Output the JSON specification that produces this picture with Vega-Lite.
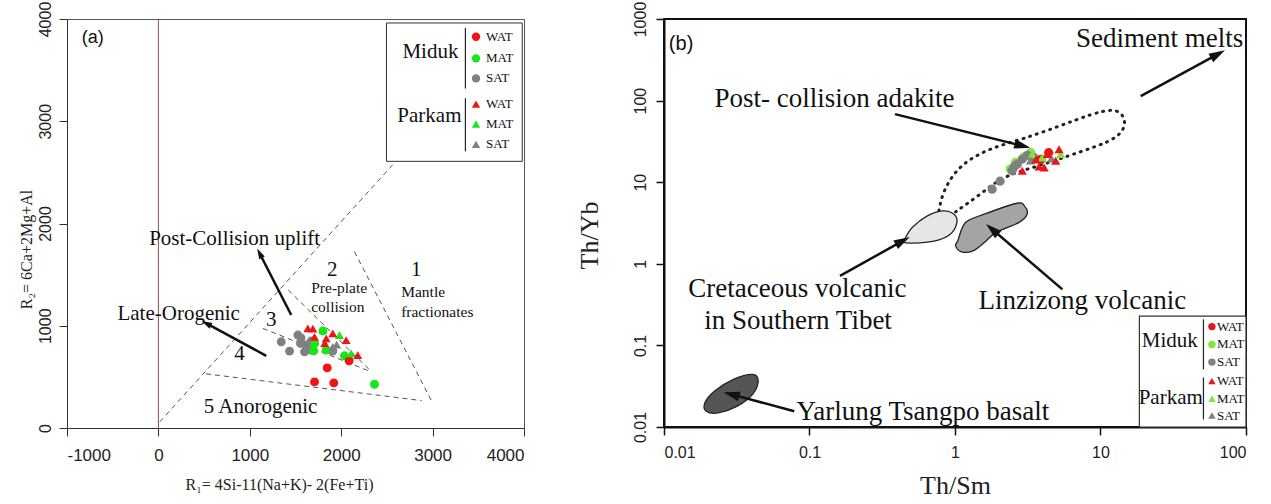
{
  "$schema": "https://vega.github.io/schema/vega-lite/v6.json",
  "background": "white",
  "padding": {"left": 17, "top": 0, "right": 0, "bottom": 0},
  "spacing": 49,
  "config": {
    "axis": {
      "grid": false,
      "labelFont": "Liberation Sans",
      "labelFontSize": 16,
      "labelColor": "#222",
      "titleFont": "Liberation Serif",
      "titleFontWeight": "normal",
      "titleColor": "#222",
      "tickColor": "#333",
      "domainColor": "#333"
    },
    "text": {"font": "Liberation Serif", "color": "#111"}
  },
  "resolve": {"scale": {"color": "independent", "shape": "independent", "angle": "independent", "fill": "independent"}},
  "datasets": {
    "zonesA": [
      {"seg": "L1", "i": 0, "x": 15, "y": 60}, {"seg": "L1", "i": 1, "x": 2564, "y": 2575},
      {"seg": "L5", "i": 0, "x": 520, "y": 530}, {"seg": "L5", "i": 1, "x": 2880, "y": 268},
      {"seg": "L1b", "i": 0, "x": 2145, "y": 1725}, {"seg": "L1b", "i": 1, "x": 2994, "y": 255},
      {"seg": "L2", "i": 0, "x": 1420, "y": 1350}, {"seg": "L2", "i": 1, "x": 2320, "y": 560},
      {"seg": "L3", "i": 0, "x": 1143, "y": 974}, {"seg": "L3", "i": 1, "x": 2328, "y": 549}
    ],
    "zeroA": [{"x": 0, "y": 0, "y2": 4000}],
    "arrowsA": [
      {"arrow": "uplift", "x": 1453, "y": 1105, "x2": 1107, "y2": 1709},
      {"arrow": "orogenic", "x": 1180, "y": 706, "x2": 525, "y2": 1023}
    ],
    "bigTextA": [
      {"x": 834, "y": 1853, "text": "Post-Collision uplift"},
      {"x": 222, "y": 1118, "text": "Late-Orogenic"},
      {"x": 1117, "y": 206, "text": "5 Anorogenic"},
      {"x": 1902, "y": 1545, "text": "2"},
      {"x": 2820, "y": 1545, "text": "1"},
      {"x": 1235, "y": 1059, "text": "3"},
      {"x": 888, "y": 728, "text": "4"}
    ],
    "smallTextA": [
      {"x": 1672, "y": 1372, "text": "Pre-plate"},
      {"x": 1672, "y": 1180, "text": "collision"},
      {"x": 2656, "y": 1333, "text": "Mantle"},
      {"x": 2656, "y": 1137, "text": "fractionates"}
    ],
    "tagA": [{"x": -838, "y": 3814, "text": "(a)"}],
    "ptsA": [
      {"loc": "Miduk", "type": "SAT", "x": 1344, "y": 843},
      {"loc": "Miduk", "type": "SAT", "x": 1435, "y": 752},
      {"loc": "Miduk", "type": "SAT", "x": 1526, "y": 909},
      {"loc": "Miduk", "type": "SAT", "x": 1555, "y": 827},
      {"loc": "Miduk", "type": "SAT", "x": 1599, "y": 745},
      {"loc": "Miduk", "type": "SAT", "x": 1672, "y": 850},
      {"loc": "Miduk", "type": "SAT", "x": 1672, "y": 762},
      {"loc": "Miduk", "type": "SAT", "x": 1908, "y": 752},
      {"loc": "Miduk", "type": "SAT", "x": 1617, "y": 811},
      {"loc": "Miduk", "type": "SAT", "x": 1560, "y": 880},
      {"loc": "Miduk", "type": "MAT", "x": 2364, "y": 428},
      {"loc": "Miduk", "type": "MAT", "x": 2036, "y": 706},
      {"loc": "Miduk", "type": "MAT", "x": 1710, "y": 827},
      {"loc": "Miduk", "type": "MAT", "x": 1700, "y": 755},
      {"loc": "Miduk", "type": "MAT", "x": 1836, "y": 762},
      {"loc": "Miduk", "type": "MAT", "x": 1800, "y": 950},
      {"loc": "Miduk", "type": "WAT", "x": 1708, "y": 451},
      {"loc": "Miduk", "type": "WAT", "x": 1919, "y": 441},
      {"loc": "Miduk", "type": "WAT", "x": 1847, "y": 588},
      {"loc": "Miduk", "type": "WAT", "x": 2087, "y": 658},
      {"loc": "Parkam", "type": "SAT", "x": 1908, "y": 794},
      {"loc": "Parkam", "type": "SAT", "x": 1950, "y": 815},
      {"loc": "Parkam", "type": "MAT", "x": 1799, "y": 958},
      {"loc": "Parkam", "type": "MAT", "x": 1981, "y": 909},
      {"loc": "Parkam", "type": "MAT", "x": 2109, "y": 729},
      {"loc": "Parkam", "type": "WAT", "x": 1635, "y": 974},
      {"loc": "Parkam", "type": "WAT", "x": 1690, "y": 972},
      {"loc": "Parkam", "type": "WAT", "x": 1708, "y": 892},
      {"loc": "Parkam", "type": "WAT", "x": 1836, "y": 876},
      {"loc": "Parkam", "type": "WAT", "x": 1908, "y": 925},
      {"loc": "Parkam", "type": "WAT", "x": 2054, "y": 860},
      {"loc": "Parkam", "type": "WAT", "x": 2181, "y": 712},
      {"loc": "Parkam", "type": "WAT", "x": 1820, "y": 830}
    ],
    "legBoxA": [{"x": 2495, "x2": 3981, "y": 2608, "y2": 3961}],
    "legGroupA": [{"x": 2976, "y": 3679, "text": "Miduk"}, {"x": 2965, "y": 3049, "text": "Parkam"}],
    "legRuleA": [{"x": 3359, "y": 3320, "y2": 3912}, {"x": 3359, "y": 2706, "y2": 3225}],
    "legKeyA": [
      {"loc": "Miduk", "type": "WAT", "x": 3475, "y": 3826},
      {"loc": "Miduk", "type": "MAT", "x": 3475, "y": 3615},
      {"loc": "Miduk", "type": "SAT", "x": 3475, "y": 3419},
      {"loc": "Parkam", "type": "WAT", "x": 3475, "y": 3167},
      {"loc": "Parkam", "type": "MAT", "x": 3475, "y": 2971},
      {"loc": "Parkam", "type": "SAT", "x": 3475, "y": 2775}
    ],
    "adakiteB": [
      {"i": 1, "x": 0.774, "y": 4.45}, {"i": 2, "x": 0.822, "y": 7.47}, {"i": 3, "x": 0.984, "y": 13.1},
      {"i": 4, "x": 1.25, "y": 19.1}, {"i": 5, "x": 1.8, "y": 26.6}, {"i": 6, "x": 2.91, "y": 33.7},
      {"i": 7, "x": 5.31, "y": 49.1}, {"i": 8, "x": 8.59, "y": 68.3}, {"i": 9, "x": 12.3, "y": 80.1},
      {"i": 10, "x": 14.3, "y": 68.3}, {"i": 11, "x": 15.0, "y": 49.1}, {"i": 12, "x": 13.1, "y": 35.3},
      {"i": 13, "x": 9.68, "y": 27.9}, {"i": 14, "x": 5.98, "y": 21.0}, {"i": 15, "x": 3.7, "y": 15.6},
      {"i": 16, "x": 2.15, "y": 12.0}, {"i": 17, "x": 1.5, "y": 7.13}, {"i": 18, "x": 1.01, "y": 4.33}
    ],
    "fieldsB": [
      {"field": "Cretaceous", "i": 1, "x": 0.45, "y": 2.0},
      {"field": "Cretaceous", "i": 2, "x": 0.508, "y": 2.78},
      {"field": "Cretaceous", "i": 3, "x": 0.646, "y": 3.86},
      {"field": "Cretaceous", "i": 4, "x": 0.822, "y": 4.45},
      {"field": "Cretaceous", "i": 5, "x": 0.984, "y": 4.05},
      {"field": "Cretaceous", "i": 6, "x": 1.03, "y": 3.2},
      {"field": "Cretaceous", "i": 7, "x": 0.927, "y": 2.3},
      {"field": "Cretaceous", "i": 8, "x": 0.73, "y": 1.91},
      {"field": "Cretaceous", "i": 9, "x": 0.508, "y": 1.79},
      {"field": "Cretaceous", "i": 10, "x": 0.437, "y": 1.85},
      {"field": "Linzizong", "i": 1, "x": 1.045, "y": 1.91},
      {"field": "Linzizong", "i": 2, "x": 1.18, "y": 3.2},
      {"field": "Linzizong", "i": 3, "x": 1.59, "y": 4.05},
      {"field": "Linzizong", "i": 4, "x": 2.66, "y": 5.52},
      {"field": "Linzizong", "i": 5, "x": 3.0, "y": 5.12},
      {"field": "Linzizong", "i": 6, "x": 3.13, "y": 4.05},
      {"field": "Linzizong", "i": 7, "x": 2.74, "y": 3.2},
      {"field": "Linzizong", "i": 8, "x": 1.91, "y": 2.41},
      {"field": "Linzizong", "i": 9, "x": 1.59, "y": 1.82},
      {"field": "Linzizong", "i": 10, "x": 1.33, "y": 1.44},
      {"field": "Linzizong", "i": 11, "x": 1.11, "y": 1.4},
      {"field": "Linzizong", "i": 12, "x": 1.01, "y": 1.66},
      {"field": "Yarlung", "i": 1, "x": 0.0191, "y": 0.0198},
      {"field": "Yarlung", "i": 2, "x": 0.0222, "y": 0.0275},
      {"field": "Yarlung", "i": 3, "x": 0.03, "y": 0.0383},
      {"field": "Yarlung", "i": 4, "x": 0.0406, "y": 0.0441},
      {"field": "Yarlung", "i": 5, "x": 0.0444, "y": 0.0365},
      {"field": "Yarlung", "i": 6, "x": 0.0406, "y": 0.0251},
      {"field": "Yarlung", "i": 7, "x": 0.0319, "y": 0.018},
      {"field": "Yarlung", "i": 8, "x": 0.0236, "y": 0.0149},
      {"field": "Yarlung", "i": 9, "x": 0.0195, "y": 0.0156}
    ],
    "arrowsB": [
      {"arrow": "adakite", "x": 0.387, "y": 68.3, "x2": 2.91, "y2": 27.9},
      {"arrow": "sediment", "x": 18.9, "y": 113.5, "x2": 64.1, "y2": 372},
      {"arrow": "cretaceous", "x": 0.162, "y": 0.71, "x2": 0.437, "y2": 1.91},
      {"arrow": "linzizong", "x": 5.47, "y": 0.486, "x2": 1.8, "y2": 2.65},
      {"arrow": "yarlung", "x": 0.0786, "y": 0.0156, "x2": 0.0291, "y2": 0.0251}
    ],
    "textB": [
      {"x": 25.5, "y": 569, "text": "Sediment melts"},
      {"x": 0.1486, "y": 104, "text": "Post- collision adakite"},
      {"x": 0.0826, "y": 0.486, "text": "Cretaceous volcanic"},
      {"x": 0.0835, "y": 0.199, "text": "in Southern Tibet"},
      {"x": 7.5, "y": 0.347, "text": "Linzizong volcanic"},
      {"x": 0.601, "y": 0.0151, "text": "Yarlung Tsangpo basalt"}
    ],
    "tagB": [{"x": 0.0108, "y": 493, "text": "(b)"}],
    "ptsB": [
      {"loc": "Miduk", "type": "MAT", "x": 3.31, "y": 23.1},
      {"loc": "Miduk", "type": "MAT", "x": 2.61, "y": 17.5},
      {"loc": "Miduk", "type": "MAT", "x": 2.4, "y": 14.5},
      {"loc": "Miduk", "type": "MAT", "x": 3.0, "y": 20.5},
      {"loc": "Miduk", "type": "SAT", "x": 1.8, "y": 8.2},
      {"loc": "Miduk", "type": "SAT", "x": 2.04, "y": 10.3},
      {"loc": "Miduk", "type": "SAT", "x": 2.47, "y": 13.8},
      {"loc": "Miduk", "type": "SAT", "x": 2.68, "y": 16.6},
      {"loc": "Miduk", "type": "SAT", "x": 2.9, "y": 19.2},
      {"loc": "Miduk", "type": "SAT", "x": 3.14, "y": 21.4},
      {"loc": "Miduk", "type": "SAT", "x": 3.49, "y": 20.1},
      {"loc": "Miduk", "type": "SAT", "x": 2.55, "y": 15.5},
      {"loc": "Miduk", "type": "WAT", "x": 4.4, "y": 23.0},
      {"loc": "Miduk", "type": "WAT", "x": 3.9, "y": 19.0},
      {"loc": "Parkam", "type": "MAT", "x": 3.4, "y": 22.1},
      {"loc": "Parkam", "type": "MAT", "x": 5.32, "y": 22.1},
      {"loc": "Parkam", "type": "MAT", "x": 3.98, "y": 20.1},
      {"loc": "Parkam", "type": "SAT", "x": 3.3, "y": 18.5},
      {"loc": "Parkam", "type": "SAT", "x": 4.6, "y": 19.5},
      {"loc": "Parkam", "type": "WAT", "x": 2.9, "y": 13.8},
      {"loc": "Parkam", "type": "WAT", "x": 3.78, "y": 15.6},
      {"loc": "Parkam", "type": "WAT", "x": 4.31, "y": 22.1},
      {"loc": "Parkam", "type": "WAT", "x": 4.92, "y": 18.3},
      {"loc": "Parkam", "type": "WAT", "x": 5.19, "y": 25.4},
      {"loc": "Parkam", "type": "WAT", "x": 4.1, "y": 15.1},
      {"loc": "Parkam", "type": "WAT", "x": 3.6, "y": 19.0}
    ],
    "legBoxB": [{"x": 18.5, "x2": 100, "y": 0.01, "y2": 0.229}],
    "legGroupB": [{"x": 29.9, "y": 0.113, "text": "Miduk"}, {"x": 30.4, "y": 0.0228, "text": "Parkam"}],
    "legRuleB": [{"x": 51.0, "y": 0.0508, "y2": 0.2085}, {"x": 51.0, "y": 0.01236, "y2": 0.0405}],
    "legKeyB": [
      {"loc": "Miduk", "type": "WAT", "x": 58.3, "y": 0.17},
      {"loc": "Miduk", "type": "MAT", "x": 58.3, "y": 0.1028},
      {"loc": "Miduk", "type": "SAT", "x": 58.3, "y": 0.0624},
      {"loc": "Parkam", "type": "WAT", "x": 58.3, "y": 0.0365},
      {"loc": "Parkam", "type": "MAT", "x": 58.3, "y": 0.0222},
      {"loc": "Parkam", "type": "SAT", "x": 58.3, "y": 0.01383}
    ]
  },
  "hconcat": [
    {
      "width": 457,
      "height": 409,
      "view": {"stroke": "#555", "strokeWidth": 1},
      "layer": [
        {
          "data": {"name": "zonesA"},
          "mark": {"type": "line", "stroke": "#555", "strokeWidth": 1, "strokeDash": [5, 4]},
          "encoding": {
            "x": {
              "field": "x", "type": "quantitative",
              "scale": {"domain": [-1000, 4000], "nice": false, "zero": false},
              "axis": {
                "title": "R₁= 4Si-11(Na+K)- 2(Fe+Ti)",
                "values": [-1000, 0, 1000, 2000, 3000, 4000],
                "labelExpr": "'' + datum.value",
                "tickSize": 8,
                "labelPadding": 11,
                "labelFontSize": 17,
                "titleFontSize": 16,
                "titlePadding": 13,
                "titleX": 212
              }
            },
            "y": {
              "field": "y", "type": "quantitative",
              "scale": {"domain": [0, 4000], "nice": false, "zero": false},
              "axis": {
                "title": "R₂= 6Ca+2Mg+Al",
                "values": [0, 1000, 2000, 3000, 4000],
                "labelExpr": "'' + datum.value",
                "labelAngle": 270,
                "labelAlign": "center",
                "labelBaseline": "bottom",
                "tickSize": 8,
                "labelPadding": 6,
                "titleFontSize": 16,
                "titlePadding": 3,
                "titleY": 230
              }
            },
            "detail": {"field": "seg"},
            "order": {"field": "i"}
          }
        },
        {
          "data": {"name": "zeroA"},
          "mark": {"type": "rule", "stroke": "#8a4f4f", "strokeWidth": 1},
          "encoding": {
            "x": {"field": "x", "type": "quantitative"},
            "y": {"field": "y", "type": "quantitative"},
            "y2": {"field": "y2"}
          }
        },
        {
          "data": {"name": "arrowsA"},
          "mark": {"type": "rule", "stroke": "#111", "strokeWidth": 2.5},
          "encoding": {
            "x": {"field": "x", "type": "quantitative"},
            "y": {"field": "y", "type": "quantitative"},
            "x2": {"field": "x2"},
            "y2": {"field": "y2"}
          }
        },
        {
          "data": {"name": "arrowsA"},
          "mark": {"type": "point", "shape": "M0,-1L0.6,1L-0.6,1Z", "filled": true, "color": "#111", "opacity": 1, "size": 110},
          "encoding": {
            "x": {"field": "x2", "type": "quantitative"},
            "y": {"field": "y2", "type": "quantitative"},
            "angle": {"field": "arrow", "type": "nominal", "scale": {"type": "ordinal", "domain": ["uplift", "orogenic"], "range": [-27, -62]}, "legend": null}
          }
        },
        {
          "data": {"name": "bigTextA"},
          "mark": {"type": "text", "fontSize": 21, "align": "center", "baseline": "middle"},
          "encoding": {
            "x": {"field": "x", "type": "quantitative"},
            "y": {"field": "y", "type": "quantitative"},
            "text": {"field": "text"}
          }
        },
        {
          "data": {"name": "smallTextA"},
          "mark": {"type": "text", "fontSize": 15.5, "align": "left", "baseline": "middle"},
          "encoding": {
            "x": {"field": "x", "type": "quantitative"},
            "y": {"field": "y", "type": "quantitative"},
            "text": {"field": "text"}
          }
        },
        {
          "data": {"name": "tagA"},
          "mark": {"type": "text", "font": "Liberation Sans", "fontSize": 18, "align": "left", "baseline": "middle"},
          "encoding": {
            "x": {"field": "x", "type": "quantitative"},
            "y": {"field": "y", "type": "quantitative"},
            "text": {"field": "text"}
          }
        },
        {
          "data": {"name": "ptsA"},
          "mark": {"type": "point", "filled": true, "opacity": 1, "size": 80},
          "encoding": {
            "x": {"field": "x", "type": "quantitative"},
            "y": {"field": "y", "type": "quantitative"},
            "shape": {"field": "loc", "type": "nominal", "scale": {"domain": ["Miduk", "Parkam"], "range": ["circle", "triangle-up"]}, "legend": null},
            "color": {"field": "type", "type": "nominal", "scale": {"domain": ["WAT", "MAT", "SAT"], "range": ["#f21414", "#19e619", "#808080"]}, "legend": null}
          }
        },
        {
          "data": {"name": "legBoxA"},
          "mark": {"type": "rect", "fill": "white", "stroke": "#333", "strokeWidth": 1},
          "encoding": {
            "x": {"field": "x", "type": "quantitative"},
            "x2": {"field": "x2"},
            "y": {"field": "y", "type": "quantitative"},
            "y2": {"field": "y2"}
          }
        },
        {
          "data": {"name": "legRuleA"},
          "mark": {"type": "rule", "stroke": "#222", "strokeWidth": 1.2},
          "encoding": {
            "x": {"field": "x", "type": "quantitative"},
            "y": {"field": "y", "type": "quantitative"},
            "y2": {"field": "y2"}
          }
        },
        {
          "data": {"name": "legGroupA"},
          "mark": {"type": "text", "fontSize": 21, "align": "center", "baseline": "middle"},
          "encoding": {
            "x": {"field": "x", "type": "quantitative"},
            "y": {"field": "y", "type": "quantitative"},
            "text": {"field": "text"}
          }
        },
        {
          "data": {"name": "legKeyA"},
          "mark": {"type": "point", "filled": true, "opacity": 1, "size": 70},
          "encoding": {
            "x": {"field": "x", "type": "quantitative"},
            "y": {"field": "y", "type": "quantitative"},
            "shape": {"field": "loc", "type": "nominal", "legend": null},
            "color": {"field": "type", "type": "nominal", "legend": null}
          }
        },
        {
          "data": {"name": "legKeyA"},
          "mark": {"type": "text", "fontSize": 13, "align": "left", "baseline": "middle", "dx": 10},
          "encoding": {
            "x": {"field": "x", "type": "quantitative"},
            "y": {"field": "y", "type": "quantitative"},
            "text": {"field": "type"}
          }
        }
      ]
    },
    {
      "width": 582,
      "height": 408,
      "view": {"stroke": "#111", "strokeWidth": 2},
      "layer": [
        {
          "data": {"name": "adakiteB"},
          "mark": {"type": "line", "stroke": "#222", "strokeWidth": 3, "strokeDash": [1, 6], "strokeCap": "round", "interpolate": "basis"},
          "encoding": {
            "x": {
              "field": "x", "type": "quantitative",
              "scale": {"type": "log", "domain": [0.01, 100], "nice": false},
              "axis": {
                "title": "Th/Sm",
                "values": [0.01, 0.1, 1, 10, 100],
                "format": "~g",
                "tickSize": 8,
                "labelPadding": 9,
                "titleFontSize": 26,
                "titlePadding": 12,
                "domainWidth": 2,
                "domainColor": "#111",
                "tickWidth": 1.5,
                "tickColor": "#111"
              }
            },
            "y": {
              "field": "y", "type": "quantitative",
              "scale": {"type": "log", "domain": [0.01, 1000], "nice": false},
              "axis": {
                "title": "Th/Yb",
                "values": [0.01, 0.1, 1, 10, 100, 1000],
                "format": "~g",
                "labelAngle": 270,
                "labelAlign": "center",
                "labelBaseline": "bottom",
                "tickSize": 8,
                "labelPadding": 8,
                "titleFontSize": 26,
                "titlePadding": 30,
                "titleY": 216,
                "domainWidth": 2,
                "domainColor": "#111",
                "tickWidth": 1.5,
                "tickColor": "#111"
              }
            },
            "order": {"field": "i"}
          }
        },
        {
          "data": {"name": "fieldsB"},
          "mark": {"type": "line", "stroke": "#222", "strokeWidth": 1.3, "interpolate": "cardinal-closed"},
          "encoding": {
            "x": {"field": "x", "type": "quantitative"},
            "y": {"field": "y", "type": "quantitative"},
            "detail": {"field": "field"},
            "order": {"field": "i"},
            "fill": {"field": "field", "type": "nominal", "scale": {"domain": ["Cretaceous", "Linzizong", "Yarlung"], "range": ["#e6e6e6", "#a4a4a4", "#555555"]}, "legend": null}
          }
        },
        {
          "data": {"name": "arrowsB"},
          "mark": {"type": "rule", "stroke": "#111", "strokeWidth": 2.5},
          "encoding": {
            "x": {"field": "x", "type": "quantitative"},
            "y": {"field": "y", "type": "quantitative"},
            "x2": {"field": "x2"},
            "y2": {"field": "y2"}
          }
        },
        {
          "data": {"name": "arrowsB"},
          "mark": {"type": "point", "shape": "M0,-1L0.6,1L-0.6,1Z", "filled": true, "color": "#111", "opacity": 1, "size": 260},
          "encoding": {
            "x": {"field": "x2", "type": "quantitative"},
            "y": {"field": "y2", "type": "quantitative"},
            "angle": {"field": "arrow", "type": "nominal", "scale": {"type": "ordinal", "domain": ["adakite", "sediment", "cretaceous", "linzizong", "yarlung"], "range": [104, 61, 61, -49, -75]}, "legend": null}
          }
        },
        {
          "data": {"name": "textB"},
          "mark": {"type": "text", "fontSize": 27, "align": "center", "baseline": "middle"},
          "encoding": {
            "x": {"field": "x", "type": "quantitative"},
            "y": {"field": "y", "type": "quantitative"},
            "text": {"field": "text"}
          }
        },
        {
          "data": {"name": "tagB"},
          "mark": {"type": "text", "font": "Liberation Sans", "fontSize": 20, "align": "left", "baseline": "middle"},
          "encoding": {
            "x": {"field": "x", "type": "quantitative"},
            "y": {"field": "y", "type": "quantitative"},
            "text": {"field": "text"}
          }
        },
        {
          "data": {"name": "ptsB"},
          "mark": {"type": "point", "filled": true, "opacity": 1, "size": 85},
          "encoding": {
            "x": {"field": "x", "type": "quantitative"},
            "y": {"field": "y", "type": "quantitative"},
            "shape": {"field": "loc", "type": "nominal", "scale": {"domain": ["Miduk", "Parkam"], "range": ["circle", "triangle-up"]}, "legend": null},
            "color": {"field": "type", "type": "nominal", "scale": {"domain": ["WAT", "MAT", "SAT"], "range": ["#e8161b", "#80e63a", "#808080"]}, "legend": null}
          }
        },
        {
          "data": {"name": "legBoxB"},
          "mark": {"type": "rect", "fill": "white", "stroke": "#333", "strokeWidth": 1.2},
          "encoding": {
            "x": {"field": "x", "type": "quantitative"},
            "x2": {"field": "x2"},
            "y": {"field": "y", "type": "quantitative"},
            "y2": {"field": "y2"}
          }
        },
        {
          "data": {"name": "legRuleB"},
          "mark": {"type": "rule", "stroke": "#222", "strokeWidth": 1.2},
          "encoding": {
            "x": {"field": "x", "type": "quantitative"},
            "y": {"field": "y", "type": "quantitative"},
            "y2": {"field": "y2"}
          }
        },
        {
          "data": {"name": "legGroupB"},
          "mark": {"type": "text", "fontSize": 21, "align": "center", "baseline": "middle"},
          "encoding": {
            "x": {"field": "x", "type": "quantitative"},
            "y": {"field": "y", "type": "quantitative"},
            "text": {"field": "text"}
          }
        },
        {
          "data": {"name": "legKeyB"},
          "mark": {"type": "point", "filled": true, "opacity": 1, "size": 55},
          "encoding": {
            "x": {"field": "x", "type": "quantitative"},
            "y": {"field": "y", "type": "quantitative"},
            "shape": {"field": "loc", "type": "nominal", "legend": null},
            "color": {"field": "type", "type": "nominal", "legend": null}
          }
        },
        {
          "data": {"name": "legKeyB"},
          "mark": {"type": "text", "fontSize": 13, "align": "left", "baseline": "middle", "dx": 5},
          "encoding": {
            "x": {"field": "x", "type": "quantitative"},
            "y": {"field": "y", "type": "quantitative"},
            "text": {"field": "type"}
          }
        }
      ]
    }
  ]
}
